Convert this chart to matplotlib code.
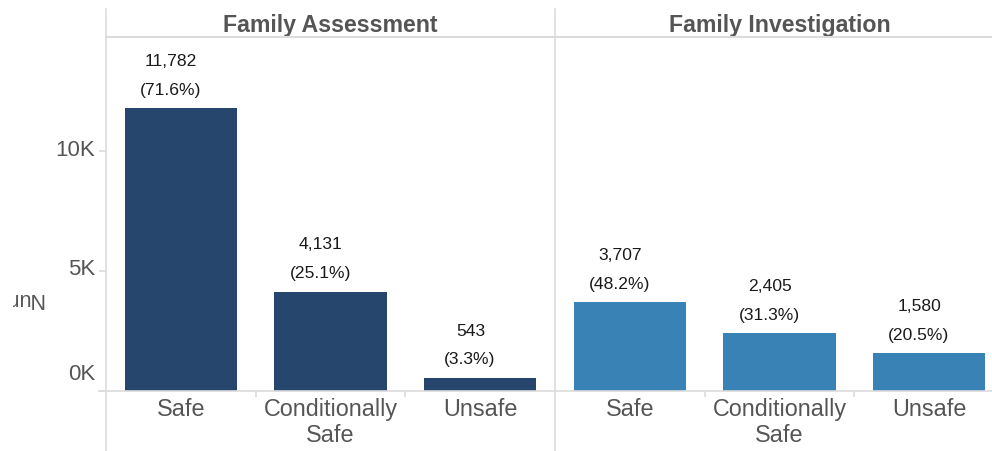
import matplotlib
matplotlib.use("Agg")
import matplotlib.pyplot as plt
from matplotlib.lines import Line2D
from matplotlib.transforms import Bbox, ScaledTranslation

plt.rcParams['font.family'] = ['Liberation Sans', 'DejaVu Sans']

# data
panels = ["Family Assessment", "Family Investigation"]
categories = ["Safe", "Conditionally\nSafe", "Unsafe"]
assessment_counts = [11782, 4131, 543]
investigation_counts = [3707, 2405, 1580]
yticks = [0, 5000, 10000]
ytick_labels = ["0K", "5K", "10K"]

colors = ["#27466e", "#3882b5"]
grey = "#555555"
linecol = "#dcdcdc"

W, H = 992, 452
fig = plt.figure(figsize=(W / 100, H / 100), dpi=100)


def fx(px):
    return px / W


def fy(py):
    return 1 - py / H


top, base = 38, 392
band = 149.7
panel_left = [106, 555]
ymax = (base - top) / 24.0 * 1000

axes = []
for i, left in enumerate(panel_left):
    right = min(left + 3 * band, W)
    ax = fig.add_axes([fx(left), fy(base), fx(right - left), (base - top) / H])
    ax.set_xlim(-0.5, -0.5 + (right - left) / band)
    ax.set_ylim(0, ymax)
    for s in ax.spines.values():
        s.set_visible(False)
    ax.patch.set_alpha(0)
    axes.append(ax)

for i, (ax, counts) in enumerate(zip(axes, [assessment_counts, investigation_counts])):
    xs = range(len(categories))
    ax.bar(xs, counts, width=0.75, color=colors[i])
    total = sum(counts)
    for x, v in zip(xs, counts):
        ax.annotate(f"{v:,}", (x, v), xytext=(-7, 34.5), textcoords="offset points",
                    ha="center", va="center", fontsize=12.6, color="#1a1a1a")
        ax.annotate(f"({v / total * 100:.1f}%)", (x, v), xytext=(-7.5, 13.7),
                    textcoords="offset points", ha="center", va="center",
                    fontsize=12.6, color="#1a1a1a")
    ax.set_xticks(list(xs))
    ax.set_xticklabels(categories, fontsize=16.8, color=grey, linespacing=1.2)
    ax.tick_params(axis="x", length=0, pad=4)
    # small separators between bands
    ax.set_xticks([0.5, 1.5], minor=True)
    ax.tick_params(axis="x", which="minor", length=4, color=linecol, width=1.2, direction="out")
    if i == 0:
        ax.set_yticks(yticks)
        ax.set_yticklabels(ytick_labels, fontsize=16, color=grey)
        ax.tick_params(axis="y", length=5, color=linecol, width=1.2, pad=3)
        shifts = [20, 5, 4]
        for lab, s in zip(ax.get_yticklabels(), shifts):
            lab.set_transform(lab.get_transform() + ScaledTranslation(0, s / 100, fig.dpi_scale_trans))
    else:
        ax.set_yticks([])
    ax.text(0.5 * (3 * band) / (min(panel_left[i] + 3 * band, W) - panel_left[i]), (base - 32) / (base - top),
            panels[i], transform=ax.transAxes, ha="center", va="baseline",
            fontsize=16.7, fontweight="bold", color=grey)

# frame lines
for left in panel_left:
    fig.add_artist(Line2D([fx(left), fx(left)], [fy(10), fy(H)], color=linecol, lw=1.2))
fig.add_artist(Line2D([fx(106), fx(W)], [fy(top), fy(top)], color=linecol, lw=1.5))
fig.add_artist(Line2D([fx(99), fx(W)], [fy(base), fy(base)], color=linecol, lw=1.2))

# clipped axis title, cut off at the left edge as in the reference
t = fig.text(fx(43), fy(299), "Num", rotation=180, ha="right", va="center",
             fontsize=15.5, color=grey)
t.set_clip_box(Bbox.from_extents(13, 0, 120, H))
t.set_clip_on(True)

fig.savefig("out.png", dpi=100)
